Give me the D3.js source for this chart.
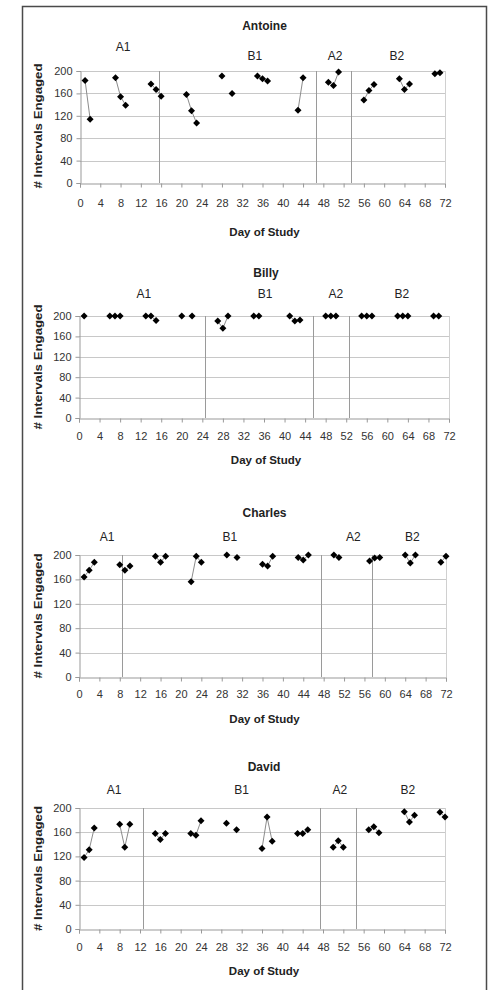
<!DOCTYPE html>
<html>
<head>
<meta charset="utf-8">
<script src="https://cdn.jsdelivr.net/npm/d3@7"></script>
<style>
  html, body { margin: 0; padding: 0; background: #fff; }
  svg { display: block; font-family: "Liberation Sans", Arial, sans-serif; }
</style>
</head>
<body>
<svg id="chart" width="492" height="990"></svg>
<script>
// Engagement per session, four students, ABAB design
const students = ["Antoine", "Billy", "Charles", "David"];
const phaseNames = ["A1", "B1", "A2", "B2"];
const xTickLabels = [0, 4, 8, 12, 16, 20, 24, 28, 32, 36, 40, 44, 48, 52, 56, 60, 64, 68, 72];
const yTickLabels = [0, 40, 80, 120, 160, 200];

const antoineDays   = [1, 2, 7, 8, 9, 14, 15, 16, 21, 22, 23, 28, 30, 35, 36, 37, 43, 44, 49, 50, 51, 56, 57, 58, 63, 64, 65, 70, 71];
const antoineValues = [183, 114, 188, 154, 139, 177, 167, 155, 158, 129, 107, 191, 160, 191, 186, 182, 130, 188, 180, 174, 198, 148, 165, 176, 186, 167, 177, 195, 197];

const billyDays   = [1, 6, 7, 8, 13, 14, 15, 20, 22, 27, 28, 29, 34, 35, 41, 42, 43, 48, 49, 50, 55, 56, 57, 62, 63, 64, 69, 70];
const billyValues = [200, 200, 200, 200, 200, 200, 191, 200, 200, 190, 176, 200, 200, 200, 200, 190, 192, 200, 200, 200, 200, 200, 200, 200, 200, 200, 200, 200];

const charlesDays   = [1, 2, 3, 8, 9, 10, 15, 16, 17, 22, 23, 24, 29, 31, 36, 37, 38, 43, 44, 45, 50, 51, 57, 58, 59, 64, 65, 66, 71, 72];
const charlesValues = [164, 175, 188, 184, 175, 182, 198, 188, 198, 156, 198, 188, 200, 196, 185, 182, 198, 196, 192, 200, 200, 196, 190, 195, 196, 200, 187, 200, 188, 198];

const davidDays   = [1, 2, 3, 8, 9, 10, 15, 16, 17, 22, 23, 24, 29, 31, 36, 37, 38, 43, 44, 45, 50, 51, 52, 57, 58, 59, 64, 65, 66, 71, 72];
const davidValues = [118, 131, 167, 173, 135, 173, 158, 148, 158, 158, 155, 179, 175, 164, 133, 185, 145, 158, 158, 164, 135, 146, 135, 164, 169, 159, 194, 177, 188, 193, 185];

// Phase-change days (vertical dividers) and where each phase name sits
const antoinePhaseChanges = [15.5, 46.5, 53.5];
const billyPhaseChanges   = [24.5, 45.5, 52.5];
const charlesPhaseChanges = [8.5, 47.5, 57.5];
const davidPhaseChanges   = [12.5, 47.5, 54.5];

const antoinePhaseLabelDays = [8.5, 34.5, 50.3, 62.5];
const billyPhaseLabelDays   = [12.6, 36.2, 50, 62.8];
const charlesPhaseLabelDays = [5.5, 29.6, 53.8, 65.4];
const davidPhaseLabelDays   = [6.9, 32, 51.3, 64.7];

const seriesDays = [antoineDays, billyDays, charlesDays, davidDays];
const seriesValues = [antoineValues, billyValues, charlesValues, davidValues];
const phaseChanges = [antoinePhaseChanges, billyPhaseChanges, charlesPhaseChanges, davidPhaseChanges];
const phaseLabelDays = [antoinePhaseLabelDays, billyPhaseLabelDays, charlesPhaseLabelDays, davidPhaseLabelDays];

// Panel geometry
const layouts = [
  { left: 80, right: 445, top: 71,  bottom: 183, titleY: 26,  phaseY: [47, 56, 56, 56], tickY: 203, xTitleY: 232, yTitleShift: -1 },
  { left: 79, right: 449, top: 316, bottom: 418, titleY: 273, phaseY: [294, 294, 294, 294], tickY: 436, xTitleY: 460, yTitleShift: 0 },
  { left: 79, right: 446, top: 555, bottom: 677, titleY: 513, phaseY: [537, 537, 537, 537], tickY: 694, xTitleY: 719, yTitleShift: 0 },
  { left: 79, right: 445, top: 808, bottom: 929, titleY: 767, phaseY: [790, 790, 790, 790], tickY: 947, xTitleY: 971, yTitleShift: 0 }
];

const svg = d3.select("#chart");

// Outer frame (open at the bottom edge of the page)
svg.append("path")
  .attr("d", "M22.5,995 V6.5 H486.5 V995")
  .attr("fill", "none")
  .attr("stroke", "#4a4a4a")
  .attr("stroke-width", 1.5);

// Diamond marker: a square turned 45 degrees
const diamond = {
  draw(ctx, size) {
    const r = Math.sqrt(size) / 2;
    ctx.moveTo(0, -r); ctx.lineTo(r, 0); ctx.lineTo(0, r); ctx.lineTo(-r, 0); ctx.closePath();
  }
};

students.forEach((name, i) => {
  const L = layouts[i];
  const days = seriesDays[i];
  const vals = seriesValues[i];
  const pts = days.map((d, k) => ({ day: d, value: vals[k] }));

  const x = d3.scaleLinear().domain([0, 72]).range([L.left, L.right]);
  const y = d3.scaleLinear().domain([0, 200]).range([L.bottom, L.top]);

  const g = svg.append("g");

  // Horizontal gridlines
  g.append("g").selectAll("line")
    .data(yTickLabels.filter(v => v > 0))
    .join("line")
    .attr("x1", L.left).attr("x2", L.right)
    .attr("y1", d => Math.round(y(d)) + 0.5).attr("y2", d => Math.round(y(d)) + 0.5)
    .attr("stroke", "#c8c8c8").attr("stroke-width", 1);

  // Right edge of plot area
  g.append("line")
    .attr("x1", Math.round(L.right) + 0.5).attr("x2", Math.round(L.right) + 0.5)
    .attr("y1", L.top).attr("y2", L.bottom)
    .attr("stroke", "#d0d0d0");

  // Phase-change dividers
  g.append("g").selectAll("line")
    .data(phaseChanges[i])
    .join("line")
    .attr("x1", d => Math.round(x(d)) + 0.5).attr("x2", d => Math.round(x(d)) + 0.5)
    .attr("y1", y(200)).attr("y2", y(0))
    .attr("stroke", "#9a9a9a").attr("stroke-width", 1);

  // Axes
  const xAxis = d3.axisBottom(x).tickValues(xTickLabels).tickSize(4).tickPadding(8).tickFormat(d3.format("d"));
  const yAxis = d3.axisLeft(y).tickValues(yTickLabels).tickSize(4).tickPadding(4).tickFormat(d3.format("d"));

  const gx = g.append("g").attr("transform", `translate(0,${Math.round(y(0)) + 0.5})`).call(xAxis);
  const gy = g.append("g").attr("transform", `translate(${Math.round(L.left) + 0.5},0)`).call(yAxis);

  [gx, gy].forEach(a => {
    a.select(".domain").attr("stroke", "#999");
    a.selectAll(".tick line").attr("stroke", "#999");
    a.selectAll(".tick text")
      .attr("fill", "#333")
      .style("font-size", "11px")
      .style("font-family", "'Liberation Sans', Arial, sans-serif");
  });
  gx.selectAll(".tick text").attr("y", null).attr("dy", null)
    .attr("dominant-baseline", "central")
    .attr("y", L.tickY - (Math.round(y(0)) + 0.5));

  // Connecting lines between consecutive days
  const segments = [];
  for (let k = 1; k < pts.length; k++) {
    if (pts[k].day - pts[k - 1].day === 1) segments.push([pts[k - 1], pts[k]]);
  }
  const line = d3.line().x(d => x(d.day)).y(d => y(d.value));
  g.append("g").selectAll("path")
    .data(segments)
    .join("path")
    .attr("d", line)
    .attr("fill", "none")
    .attr("stroke", "#8c8c8c")
    .attr("stroke-width", 1);

  // Markers
  g.append("g").selectAll("path")
    .data(pts)
    .join("path")
    .attr("transform", d => `translate(${x(d.day)},${y(d.value)})`)
    .attr("d", d3.symbol(diamond, 49))
    .attr("fill", "#000");

  // Panel title
  g.append("text")
    .attr("x", (L.left + L.right) / 2 + 2)
    .attr("y", L.titleY)
    .attr("text-anchor", "middle")
    .attr("dominant-baseline", "central")
    .attr("font-weight", "bold")
    .attr("font-size", 12)
    .attr("fill", "#222")
    .text(name);

  // Phase names
  g.append("g").selectAll("text")
    .data(phaseNames)
    .join("text")
    .attr("x", (d, k) => x(phaseLabelDays[i][k]))
    .attr("y", (d, k) => L.phaseY[k])
    .attr("text-anchor", "middle")
    .attr("dominant-baseline", "central")
    .attr("font-size", 12)
    .attr("fill", "#222")
    .text(d => d);

  // Axis titles
  g.append("text")
    .attr("x", (L.left + L.right) / 2 + 2)
    .attr("y", L.xTitleY)
    .attr("text-anchor", "middle")
    .attr("dominant-baseline", "central")
    .attr("font-weight", "bold")
    .attr("font-size", 11.5)
    .attr("fill", "#222")
    .text("Day of Study");

  const cy = (L.top + L.bottom) / 2 + L.yTitleShift;
  g.append("text")
    .attr("transform", `translate(38,${cy}) rotate(-90)`)
    .attr("text-anchor", "middle")
    .attr("dominant-baseline", "central")
    .attr("font-weight", "bold")
    .attr("font-size", 11.5)
    .attr("textLength", 125)
    .attr("lengthAdjust", "spacingAndGlyphs")
    .attr("fill", "#222")
    .text("# Intervals Engaged");
});
</script>
</body>
</html>
